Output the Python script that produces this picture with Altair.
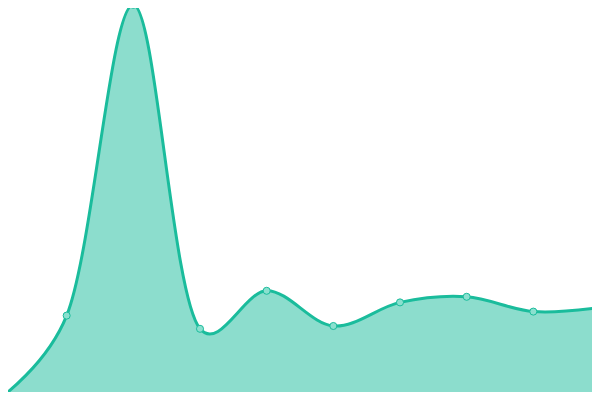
import altair as alt
import pandas as pd

idx = [0, 1, 2, 3, 4, 5, 6, 7, 8, 9]
values = [0.5, 21.1, 98.8, 17.8, 27.3, 18.5, 24.4, 25.8, 22.1, 23.1]

df = pd.DataFrame({"i": idx, "v": values})

x = alt.X("i:Q", axis=None, scale=alt.Scale(domain=[0.12, 8.88], nice=False, zero=False))
y = alt.Y("v:Q", axis=None, scale=alt.Scale(domain=[2, 98], nice=False, zero=False))

base = alt.Chart(df)
area = base.mark_area(color="#1abc9c", opacity=0.5, interpolate="catmull-rom", tension=0.25).encode(x=x, y=y)
line = base.mark_line(color="#1abc9c", strokeWidth=3, interpolate="catmull-rom", tension=0.25).encode(x=x, y=y)
pts = base.mark_point(filled=True, shape="circle", size=50, fill="#8be0cf", stroke="#1abc9c",
                      strokeWidth=1, opacity=1).encode(x=x, y=y)

chart = alt.layer(area, line, pts).properties(
    width=584, height=384, padding=0, autosize="none"
).configure_view(stroke=None)

chart.save("out.html", embed_options={"renderer": "svg", "actions": False})
